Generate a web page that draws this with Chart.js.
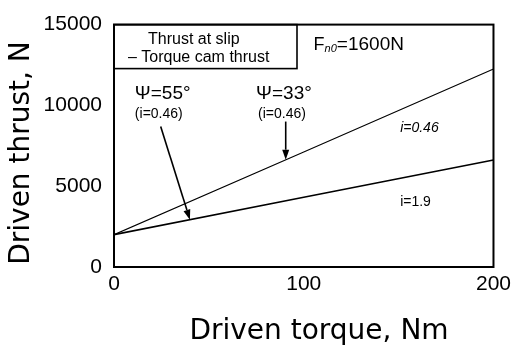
<!DOCTYPE html>
<html>
<head>
<meta charset="utf-8">
<script src="https://cdn.jsdelivr.net/npm/chart.js@4/dist/chart.umd.min.js"></script>
<style>
  html, body { margin: 0; padding: 0; background: #fff; }
  #wrap { width: 516px; height: 347px; }
</style>
</head>
<body>
<div id="wrap"><canvas id="chart"></canvas></div>
<script>
  // driven torque (Nm) vs driven thrust (N)
  const torque = [0, 100, 200];
  const thrustPsi33 = [2000, 7120, 12250];
  const thrustPsi55 = [2000, 4320, 6620];
  const xTicks = [0, 100, 200];
  const yTicks = [0, 5000, 10000, 15000];

  // callouts, placed in data units (torque, thrust)
  const labels = [
    { text: "Ψ=55°", at: [11, 10740], font: "19px 'Liberation Sans', Arial" },
    { text: "(i=0.46)", at: [11, 9480], font: "14px 'Liberation Sans', Arial" },
    { text: "Ψ=33°", at: [74.9, 10740], font: "19px 'Liberation Sans', Arial" },
    { text: "(i=0.46)", at: [75.9, 9480], font: "14px 'Liberation Sans', Arial" },
    { text: "i=0.46", at: [150.8, 8580], font: "italic 14px 'Liberation Sans', Arial" },
    { text: "i=1.9", at: [150.8, 4020], font: "14px 'Liberation Sans', Arial" }
  ];
  const arrows = [
    { from: [24.6, 8700], to: [40, 2930] },
    { from: [90.5, 9000], to: [90.5, 6640] }
  ];

  const TITLE_FONT = "28px 'DejaVu Sans', sans-serif";

  function drawArrow(ctx, x1, y1, x2, y2) {
    const ang = Math.atan2(y2 - y1, x2 - x1);
    const len = 10, half = 3.5;
    const bx = x2 - len * Math.cos(ang), by = y2 - len * Math.sin(ang);
    ctx.beginPath();
    ctx.moveTo(x1, y1);
    ctx.lineTo(bx, by);
    ctx.lineWidth = 1.6;
    ctx.stroke();
    ctx.beginPath();
    ctx.moveTo(x2, y2);
    ctx.lineTo(bx + half * Math.sin(ang), by - half * Math.cos(ang));
    ctx.lineTo(bx - half * Math.sin(ang), by + half * Math.cos(ang));
    ctx.closePath();
    ctx.fill();
  }

  const decor = {
    id: "decor",
    afterDraw(chart) {
      const { ctx, chartArea: a, scales: { x, y } } = chart;
      ctx.save();
      ctx.strokeStyle = "#000";
      ctx.fillStyle = "#000";

      // plot frame
      ctx.lineWidth = 2;
      ctx.strokeRect(a.left, a.top, a.right - a.left, a.bottom - a.top);

      // legend box in the top left corner
      ctx.lineWidth = 1.6;
      ctx.strokeRect(a.left, a.top, 183, 44);
      ctx.font = "16px 'Liberation Sans', Arial";
      ctx.textBaseline = "middle";
      ctx.textAlign = "left";
      ctx.fillText("Thrust at slip", a.left + 34, a.top + 15);
      ctx.fillText("– Torque cam thrust", a.left + 14, a.top + 33);

      // F_n0=1600N
      let fx = x.getPixelForValue(105.2), fy = y.getPixelForValue(13740);
      ctx.font = "18px 'Liberation Sans', Arial";
      ctx.fillText("F", fx, fy);
      fx += ctx.measureText("F").width;
      ctx.font = "italic 11px 'Liberation Sans', Arial";
      ctx.fillText("n0", fx, fy + 4);
      fx += ctx.measureText("n0").width;
      ctx.font = "19px 'Liberation Sans', Arial";
      ctx.fillText("=1600N", fx, fy);

      labels.forEach(l => {
        ctx.font = l.font;
        ctx.fillText(l.text, x.getPixelForValue(l.at[0]), y.getPixelForValue(l.at[1]));
      });

      arrows.forEach(r => drawArrow(ctx,
        x.getPixelForValue(r.from[0]), y.getPixelForValue(r.from[1]),
        x.getPixelForValue(r.to[0]), y.getPixelForValue(r.to[1])));

      // axis titles
      ctx.font = TITLE_FONT;
      ctx.textAlign = "center";
      ctx.fillText("Driven torque, Nm", 319, 332);
      ctx.translate(22, 153);
      ctx.rotate(-Math.PI / 2);
      ctx.fillText("Driven thrust, N", 0, 0);
      ctx.restore();
    }
  };

  new Chart(document.getElementById("chart"), {
    type: "scatter",
    data: {
      datasets: [
        {
          data: torque.map((t, i) => ({ x: t, y: thrustPsi33[i] })),
          showLine: true, borderColor: "#000", borderWidth: 1.1, pointRadius: 0
        },
        {
          data: torque.map((t, i) => ({ x: t, y: thrustPsi55[i] })),
          showLine: true, borderColor: "#000", borderWidth: 1.6, pointRadius: 0
        }
      ]
    },
    options: {
      responsive: true,
      maintainAspectRatio: false,
      animation: false,
      layout: { padding: { left: 0, right: 20, top: 17, bottom: 0 } },
      plugins: { legend: { display: false }, tooltip: { enabled: false } },
      scales: {
        x: {
          type: "linear", min: 0, max: 200,
          afterBuildTicks: s => { s.ticks = xTicks.map(v => ({ value: v })); },
          afterFit: s => { s.height = 80; },
          grid: { display: false, drawTicks: false },
          border: { display: false },
          ticks: { color: "#000", padding: 5, callback: v => String(v),
                   font: { family: "'Liberation Sans', Arial", size: 21 } }
        },
        y: {
          type: "linear", min: 0, max: 15000,
          afterBuildTicks: s => { s.ticks = yTicks.map(v => ({ value: v })); },
          afterFit: s => { s.width = 114; },
          grid: { display: false, drawTicks: false },
          border: { display: false },
          ticks: { color: "#000", padding: 12, callback: v => String(v),
                   font: { family: "'Liberation Sans', Arial", size: 21 } }
        }
      }
    },
    plugins: [decor]
  });
</script>
</body>
</html>
